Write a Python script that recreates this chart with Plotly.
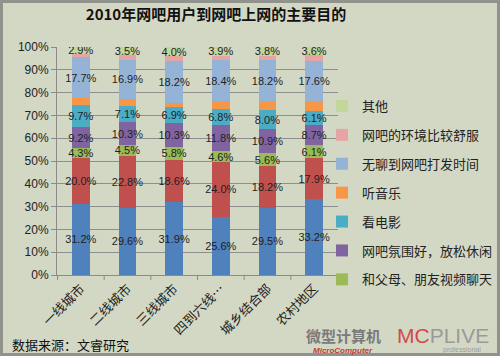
import plotly.graph_objects as go

categories = ["一线城市", "二线城市", "三线城市", "四到六线…", "城乡结合部", "农村地区"]

# series bottom -> top
s_blue = [31.2, 29.6, 31.9, 25.6, 29.5, 33.2]
s_red = [20.0, 22.8, 18.6, 24.0, 18.2, 17.9]
s_chat = [4.3, 4.5, 5.8, 4.6, 5.6, 6.1]
s_relax = [9.2, 10.3, 10.3, 11.8, 10.9, 8.7]
s_movie = [9.7, 7.1, 6.9, 6.8, 8.0, 6.1]
s_music = [3.3, 3.1, 2.1, 3.3, 3.9, 4.3]
s_bored = [17.7, 16.9, 18.2, 18.4, 18.2, 17.6]
s_comfort = [1.7, 2.2, 2.2, 1.6, 1.9, 2.5]
s_other = [2.9, 3.5, 4.0, 3.9, 3.8, 3.6]

series = [
    ("系列1", s_blue, "#4F81BD", True, False),
    ("系列2", s_red, "#C0504D", True, False),
    ("和父母、朋友视频聊天", s_chat, "#9BBB59", True, True),
    ("网吧氛围好，放松休闲", s_relax, "#8064A2", True, True),
    ("看电影", s_movie, "#4BACC6", True, True),
    ("听音乐", s_music, "#F79646", False, True),
    ("无聊到网吧打发时间", s_bored, "#95B3D7", True, True),
    ("网吧的环境比较舒服", s_comfort, "#E6A5A5", False, True),
    ("其他", s_other, "#C3D69B", True, True),
]

fig = go.Figure()
for i, (name, vals, color, lab, inleg) in enumerate(series):
    fig.add_trace(go.Bar(
        x=categories, y=vals, name=name,
        marker=dict(color=color, line=dict(width=0)),
        text=[f"{v:.1f}%" for v in vals] if lab else None,
        textposition="inside" if lab else "none",
        insidetextanchor="middle",
        textangle=0,
        constraintext="none",
        textfont=dict(family="Liberation Sans Narrow, Liberation Sans, Arial", size=11, color="#1E1E1E"),
        showlegend=inleg,
        legendgroup=f"g{i}",
        legendrank=100 - i,
    ))

bg = "#D3D8C5"
pw, ph = 281, 228
fig.update_layout(
    width=500, height=356,
    barmode="stack",
    bargap=0.62,
    paper_bgcolor=bg,
    plot_bgcolor=bg,
    margin=dict(l=57, r=162, t=47, b=81, autoexpand=False),
    uniformtext=dict(minsize=8, mode="show"),
    title=dict(text="<b>2010年网吧用户到网吧上网的主要目的</b>",
               x=216/500, xanchor="center", y=1 - 15/356, yanchor="middle",
               font=dict(family="Noto Sans CJK SC", size=15, color="#111111")),
    font=dict(family="Noto Sans CJK SC", color="#222222"),
    legend=dict(
        x=(322 - 57) / pw, xanchor="left",
        y=(275 - 91) / ph, yanchor="top",
        traceorder="grouped",
        tracegroupgap=9,
        bgcolor="rgba(0,0,0,0)",
        font=dict(family="Noto Sans CJK SC", size=13, color="#222222"),
        itemwidth=30,
    ),
    xaxis=dict(
        tickangle=-45,
        automargin=False,
        tickfont=dict(family="Noto Sans CJK SC", size=13, color="#222222"),
        showline=True, linecolor="#8A8A8A", linewidth=1,
        ticks="", showgrid=False,
    ),
    yaxis=dict(
        range=[0, 100],
        automargin=False,
        tickvals=[0, 10, 20, 30, 40, 50, 60, 70, 80, 90, 100],
        ticktext=["0%", "10%", "20%", "30%", "40%", "50%", "60%", "70%", "80%", "90%", "100%"],
        tickfont=dict(family="Liberation Sans, Arial", size=12, color="#222222"),
        showgrid=True, gridcolor="#8E8E8E", gridwidth=1,
        showline=True, linecolor="#8A8A8A", linewidth=1,
        ticks="outside", ticklen=5, tickcolor="#8A8A8A",
        zeroline=False,
    ),
)

# x-axis category boundary tick marks
for k in range(len(categories) + 1):
    fig.add_shape(type="line", xref="x", yref="paper",
                  x0=k - 0.5, x1=k - 0.5, y0=0, y1=-5/ph,
                  line=dict(color="#8A8A8A", width=1))

# outer frame
fig.add_shape(type="rect", xref="paper", yref="paper",
              x0=(1.5 - 57) / pw, x1=(498.5 - 57) / pw,
              y0=(275 - 354.5) / ph, y1=(275 - 1.5) / ph,
              line=dict(color="#8F938B", width=3), fillcolor="rgba(0,0,0,0)", layer="below")

fig.add_annotation(text="数据来源：文睿研究", xref="paper", yref="paper",
                   x=(10 - 57) / pw, y=(275 - 344) / ph, xanchor="left", yanchor="middle",
                   showarrow=False, font=dict(family="Noto Sans CJK SC", size=13, color="#111111"))

# watermark logos
fig.add_annotation(text="<b>微型计算机</b>", xref="paper", yref="paper",
                   x=(343 - 57) / pw, y=(275 - 335) / ph, xanchor="center", yanchor="middle",
                   showarrow=False, borderpad=0,
                   font=dict(family="Noto Sans CJK SC", size=15, color="#7A7A7A"))
fig.add_annotation(text="<i><b>MicroComputer</b></i>", xref="paper", yref="paper",
                   x=(343 - 57) / pw, y=(275 - 350) / ph, xanchor="center", yanchor="middle",
                   showarrow=False, borderpad=0,
                   font=dict(family="Liberation Sans", size=8, color="#C0393B"))
fig.add_annotation(text="MC<span style='color:#9A9A9A'>PLIVE</span>", xref="paper", yref="paper",
                   x=(443 - 57) / pw, y=(275 - 335) / ph, xanchor="center", yanchor="middle",
                   showarrow=False, borderpad=0,
                   font=dict(family="Liberation Sans", size=21, color="#D44A4A"))
fig.add_annotation(text="professional", xref="paper", yref="paper",
                   x=(462 - 57) / pw, y=(275 - 350) / ph, xanchor="center", yanchor="middle",
                   showarrow=False, borderpad=0,
                   font=dict(family="Liberation Sans", size=7, color="#9A9A9A"))

fig.write_html("out.html", config={"displayModeBar": False},
               post_script="document.body.style.margin='0px';")
